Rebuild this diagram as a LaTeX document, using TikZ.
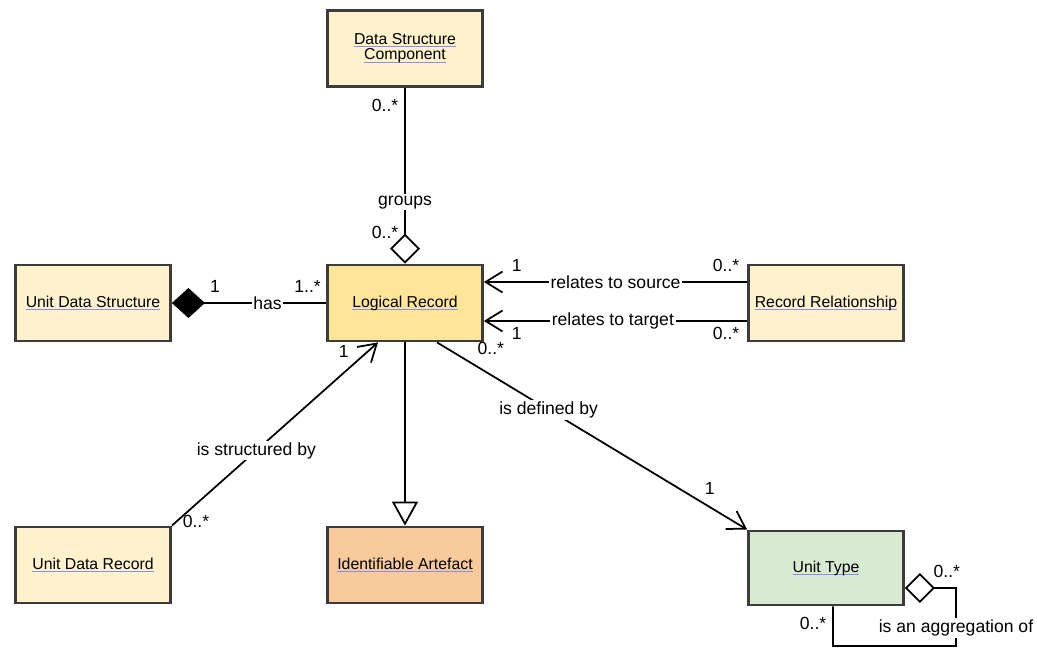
\documentclass[tikz,border=0pt]{standalone}
\usepackage{fontspec}
\setmainfont{Liberation Sans}
\usetikzlibrary{positioning,arrows.meta,calc}

\definecolor{plainfill}{RGB}{255,242,204}
\definecolor{recordfill}{RGB}{255,229,153}
\definecolor{artefactfill}{RGB}{249,203,156}
\definecolor{typefill}{RGB}{217,234,211}
\definecolor{boxline}{RGB}{60,60,60}
\definecolor{linkline}{RGB}{140,140,240}

% underlined class name
\newcommand{\classname}[1]{\setbox0\hbox{#1}\rlap{\textcolor{linkline}{\rule[-1.5pt]{\wd0}{0.6pt}}}\box0}

\begin{document}
\begin{tikzpicture}[x=0.02cm, y=-0.02cm,
    box/.style={draw=boxline, line width=1.6pt, fill=plainfill, minimum width=3.1cm, minimum height=1.52cm, align=center, font=\fontsize{9}{8.6}\selectfont},
    assoc/.style={line width=1pt},
    mult/.style={font=\fontsize{10}{12}\selectfont},
    rel/.style={fill=white, inner sep=1pt, font=\fontsize{10}{12}\selectfont},
    nav/.style={assoc, -{Straight Barb[length=0.34cm, width=0.42cm]}},
    aggregation/.style={assoc, -{Diamond[open, length=0.6cm, width=0.6cm]}},
    composition/.style={assoc, {Diamond[length=0.66cm, width=0.6cm]}-},
    generalization/.style={assoc, -{Triangle[open, length=0.48cm, width=0.52cm]}}]
    \useasboundingbox (0,0) rectangle (1037,648);

    % Define the classes
    \node[box] (dsc) at (405,48.5) {\classname{Data Structure}\\\classname{Component}};
    \node[box] (uds) at (93,303) {\classname{Unit Data Structure}};
    \node[box, fill=recordfill] (lr) at (405,303) {\classname{Logical Record}};
    \node[box] (rr) at (826,303) {\classname{Record Relationship}};
    \node[box] (udr) at (93,565) {\classname{Unit Data Record}};
    \node[box, fill=artefactfill] (ia) at (405,565) {\classname{Identifiable Artefact}};
    \node[box, fill=typefill, minimum height=1.48cm] (ut) at (826,568) {\classname{Unit Type}};

    % Groups
    \draw[aggregation] (dsc.south) --
        node[mult, pos=0.1, left] (m1) {0..*}
        node[rel, pos=0.65] (groups) {groups}
        node[mult, pos=0.82, left] (m2) {0..*} (lr.north);

    % Has
    \draw[composition] (uds.east) --
        node[mult, pos=0.28, above=2pt] (m3) {1}
        node[rel, pos=0.62] (has) {has}
        node[mult, pos=0.88, above=2pt] (m4) {1..*} (lr.west);

    % Relates to source and target
    \draw[nav] ([yshift=0.42cm]rr.west) --
        node[mult, pos=0.08, above=2pt] (m5) {0..*}
        node[rel, pos=0.5] (source) {relates to source}
        node[mult, pos=0.875, above=2pt] (m6) {1} ([yshift=0.42cm]lr.east);
    \draw[nav] ([yshift=-0.36cm]rr.west) --
        node[mult, pos=0.08, below] (m7) {0..*}
        node[rel, pos=0.51] (target) {relates to target}
        node[mult, pos=0.875, below] (m8) {1} ([yshift=-0.36cm]lr.east);

    % Is structured by
    \draw[nav] (udr.north east) --
        node[mult, pos=0.02, right] (m9) {0..*}
        node[rel, pos=0.41] (structured) {is structured by}
        node[mult, pos=0.95, left=7pt] (m10) {1} ([xshift=-0.54cm]lr.south);

    % Generalization
    \draw[generalization] (lr.south) -- (ia.north);

    % Is defined by
    \draw[nav] ([xshift=0.64cm]lr.south) --
        node[mult, pos=0.03, right=14pt] (m11) {0..*}
        node[rel, pos=0.36] (defined) {is defined by}
        node[mult, pos=0.78, right=11pt] (m12) {1} (ut.north west);

    % Is an aggregation of
    \coordinate (aggend) at ([yshift=-0.4cm]ut.east);
    \coordinate (aggleft) at (833,646);
    \coordinate (aggright) at (956,646);
    \draw[aggregation] ([xshift=0.14cm]ut.south) --
        node[mult, pos=0.42, left] (m13) {0..*} (aggleft) -- (aggright) --
        node[rel, pos=0.31] (aggof) {is an aggregation of} (aggright |- aggend) --
        node[mult, pos=0.18, above=2pt] (m14) {0..*} (aggend);
\end{tikzpicture}
\end{document}
